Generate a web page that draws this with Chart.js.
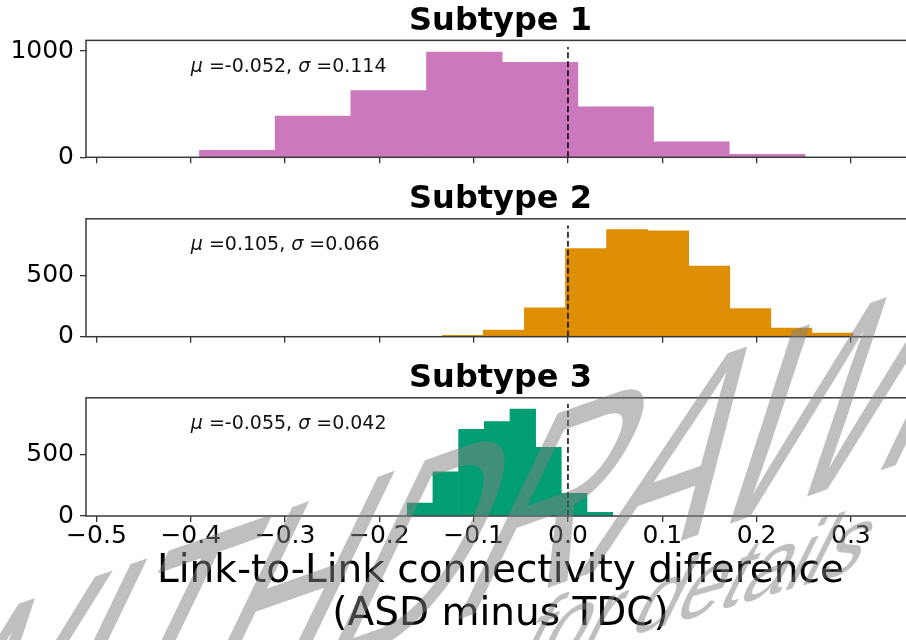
<!DOCTYPE html>
<html>
<head>
<meta charset="utf-8">
<script src="https://cdn.jsdelivr.net/npm/chart.js@4.4.1/dist/chart.umd.min.js"></script>
<style>
  html, body { margin: 0; padding: 0; background: #fff; overflow: hidden; }
  #stage { position: relative; width: 916px; height: 640px; }
  #stage canvas { position: absolute; left: 0; top: 0; width: 916px; height: 640px; }
</style>
</head>
<body>
<div id="stage">
  <canvas id="panel1" width="916" height="640"></canvas>
  <canvas id="panel2" width="916" height="640"></canvas>
  <canvas id="panel3" width="916" height="640"></canvas>
</div>
<script>
// ---- data -------------------------------------------------------------
const panelTitles = ['Subtype 1', 'Subtype 2', 'Subtype 3'];

// histogram bin edges and counts per subtype
const s1Edges  = [-0.3908, -0.3105, -0.2303, -0.1500, -0.0698, 0.0105, 0.0908, 0.1710, 0.2513];
const s1Counts = [66, 387, 628, 991, 894, 475, 146, 28];

const s2Edges  = [-0.1333, -0.0898, -0.0462, -0.0027, 0.0409, 0.0845, 0.1280, 0.1716, 0.2151, 0.2587, 0.3022];
const s2Counts = [11, 53, 236, 719, 874, 864, 577, 230, 71, 30];

const s3Edges  = [-0.1704, -0.1432, -0.1160, -0.0887, -0.0615, -0.0343, -0.0071, 0.0202, 0.0474];
const s3Counts = [105, 360, 708, 770, 872, 560, 186, 30];

const means = ['-0.052', '0.105', '-0.055'];
const sds   = ['0.114', '0.066', '0.042'];

const xTicks  = [-0.5, -0.4, -0.3, -0.2, -0.1, 0.0, 0.1, 0.2, 0.3];
const yTicks1 = [0, 1000];
const yTicks2 = [0, 500];
const yTicks3 = [0, 500];
const yMax    = [1100, 962, 965];
const zeroLineTop = [1037, 907, 914];
const xMin = -0.5111, xMax = 0.368;
const statsX = -0.4;

const xTitle = ['Link-to-Link connectivity difference', '(ASD minus TDC)'];
const stamp = 'WITHDRAWN';
const stampNote = 'for details';

const barColors = ['#CC78BC', '#DE8F05', '#029E73'];

// ---- helpers ----------------------------------------------------------
Chart.defaults.font.family = '"DejaVu Sans", sans-serif';
Chart.defaults.color = '#000';

function histPoints(edges, counts) {
  return counts.map((c, i) => ({ x: (edges[i] + edges[i + 1]) / 2, y: c }));
}
function tickText(v) {
  if (Math.abs(v) < 1e-9) return '0.0';
  return (v < 0 ? '\u2212' : '') + Math.abs(v).toFixed(1);
}

// axes frame drawn on top of the bars
const framePlugin = {
  id: 'frame',
  afterDatasetsDraw(chart) {
    const { ctx, chartArea: a } = chart;
    ctx.save();
    ctx.strokeStyle = '#3a3a3a';
    ctx.lineWidth = 1.5;
    ctx.strokeRect(a.left, a.top, a.right - a.left, a.bottom - a.top);
    ctx.restore();
  }
};

// "mu = ..., sigma = ..." note inside each panel
const statsPlugin = {
  id: 'stats',
  afterDraw(chart, args, opts) {
    const { ctx, chartArea: a } = chart;
    const x0 = chart.scales.x.getPixelForValue(statsX);
    const y0 = a.bottom - 0.775 * (a.bottom - a.top);
    const parts = [['\u03bc', true], [' =' + opts.mean + ', ', false], ['\u03c3', true], [' =' + opts.sd, false]];
    ctx.save();
    ctx.fillStyle = '#111';
    ctx.textBaseline = 'middle';
    ctx.textAlign = 'left';
    let x = x0;
    for (const [t, italic] of parts) {
      ctx.font = (italic ? 'italic ' : '') + '19px "DejaVu Sans"';
      ctx.fillText(t, x, y0);
      x += ctx.measureText(t).width;
    }
    ctx.restore();
  }
};

// diagonal grey stamp across the lower panels
const stampPlugin = {
  id: 'stamp',
  afterDraw(chart) {
    const ctx = chart.ctx;
    ctx.save();
    ctx.fillStyle = 'rgba(128,128,128,0.5)';
    ctx.textBaseline = 'alphabetic';
    ctx.textAlign = 'left';
    ctx.font = '100px "Liberation Sans", Arial, sans-serif';
    ctx.setTransform(1.84, -0.65, -1.45, 3.0, -160, 838);
    ctx.fillText(stamp, 0, 0);
    ctx.setTransform(0.79, -0.23, -0.50, 1.0, 512, 670);
    ctx.fillText(stampNote, 0, 0);
    ctx.restore();
  }
};

function makePanel(id, idx, edges, counts, yTicks, layoutPad, xAxisH, showX, extraPlugins) {
  return new Chart(document.getElementById(id), {
    type: 'bar',
    data: {
      datasets: [
        {
          type: 'line',
          data: [{ x: 0, y: 0 }, { x: 0, y: zeroLineTop[idx] }],
          borderColor: '#000',
          borderWidth: 1.5,
          borderDash: [6, 3],
          pointRadius: 0,
          order: 0
        },
        {
          type: 'bar',
          data: histPoints(edges, counts),
          backgroundColor: barColors[idx],
          borderWidth: 0,
          barPercentage: 1.0,
          categoryPercentage: 1.0,
          order: 1
        }
      ]
    },
    options: {
      responsive: false,
      animation: false,
      events: [],
      layout: { padding: layoutPad },
      plugins: {
        legend: { display: false },
        tooltip: { enabled: false },
        title: {
          display: true,
          fullSize: false,
          text: panelTitles[idx],
          color: '#000',
          font: { size: 32, weight: 'bold', lineHeight: 1.2 },
          padding: { top: 2, bottom: 0 }
        },
        stats: { mean: means[idx], sd: sds[idx] }
      },
      scales: {
        x: {
          type: 'linear',
          min: xMin,
          max: xMax,
          offset: false,
          afterBuildTicks: s => { s.ticks = xTicks.map(v => ({ value: v })); },
          afterFit: s => { s.height = xAxisH; s.paddingLeft = 0; s.paddingRight = 0; },
          grid: { offset: false, drawOnChartArea: false, drawTicks: true, tickLength: 6,
                  color: '#333', tickColor: '#333', lineWidth: 1.3 },
          border: { display: false },
          ticks: {
            display: showX,
            autoSkip: false,
            maxRotation: 0,
            padding: 2,
            color: '#000',
            font: { size: 25, lineHeight: 1 },
            callback: v => tickText(v)
          },
          title: {
            display: showX,
            text: xTitle,
            color: '#000',
            font: { size: 39, lineHeight: 1.1 },
            padding: { top: 0, bottom: 4 }
          }
        },
        y: {
          type: 'linear',
          min: 0,
          max: yMax[idx],
          afterBuildTicks: s => { s.ticks = yTicks.map(v => ({ value: v })); },
          afterFit: s => { s.width = 86; s.paddingTop = 0; s.paddingBottom = 0; },
          grid: { drawOnChartArea: false, drawTicks: true, tickLength: 6,
                  color: '#333', tickColor: '#333', lineWidth: 1.3 },
          border: { display: false },
          ticks: { padding: 6, color: '#000', font: { size: 25, lineHeight: 1.2 },
                   callback: v => String(v) }
        }
      }
    },
    plugins: [framePlugin, statsPlugin].concat(extraPlugins || [])
  });
}

makePanel('panel1', 0, s1Edges, s1Counts, yTicks1, { top: 0,     bottom: 472.7, left: 0, right: 1 }, 10,  false);
makePanel('panel2', 1, s2Edges, s2Counts, yTicks2, { top: 178.4, bottom: 293.3, left: 0, right: 1 }, 10,  false);
makePanel('panel3', 2, s3Edges, s3Counts, yTicks3, { top: 357.4, bottom: 0,     left: 0, right: 1 }, 124, true, [stampPlugin]);
</script>
</body>
</html>
